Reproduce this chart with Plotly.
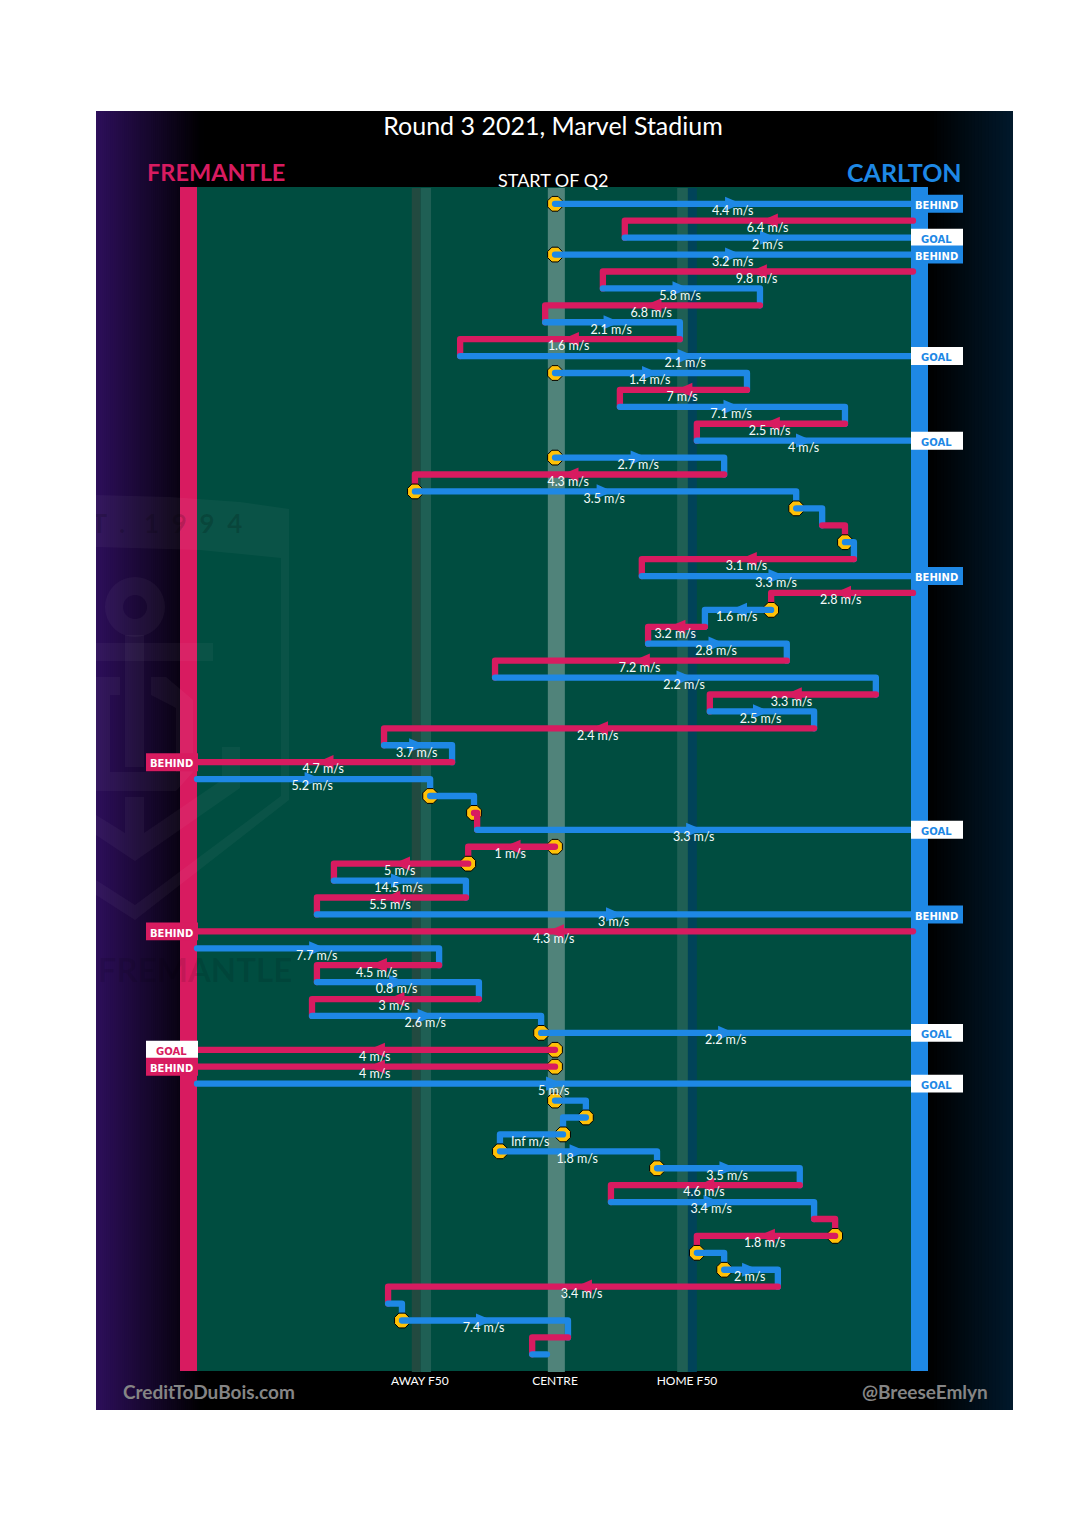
import math
import plotly.graph_objects as go

# Field position is metres from the away goal line (0) to the home goal line (160).
row_team = list("CFCCFCFCFC" "CFCFCCFCCF" "CFCFCFCFCF" "CFCFCCFCFF" "CFCFCFCFCC" "FFCCCCCCFC" "FFCCFCCFC")
row_start = [80, 160, 95.6, 80, 160, 90.7, 125.8, 77.8, 107.9, 58.8,
             80, 122.9, 94.5, 144.8, 111.7, 80, 117.8, 48.7, 133.9, 139.7,
             144.8, 146.8, 99.4, 160, 128.3, 113.5, 100.8, 131.8, 66.6, 151.7,
             114.6, 137.9, 41.8, 57, 0, 52.1, 61.9, 62.6, 80, 60.6,
             30.6, 60.1, 26.8, 160, 0, 54.1, 26.8, 63, 25.7, 76.9,
             80, 80, 0, 80, 86.9, 81.8, 67.7, 102.8, 134.7, 92.5,
             137.9, 142.6, 111.7, 117.8, 129.8, 42.7, 45.8, 82.9, 74.9]
row_end = [160, 95.6, 160, 160, 90.7, 125.8, 77.8, 107.9, 58.8, 160,
           122.9, 94.5, 144.8, 111.7, 160, 117.8, 48.7, 133.9, 139.7, 144.8,
           146.8, 99.4, 160, 128.3, 113.5, 100.8, 131.8, 66.6, 151.7, 114.6,
           137.9, 41.8, 57, 0, 52.1, 61.9, 62.6, 160, 60.6, 30.6,
           60.1, 26.8, 160, 0, 54.1, 26.8, 63, 25.7, 76.9, 160,
           0, 0, 160, 86.9, 81.8, 67.7, 102.8, 134.7, 92.5, 137.9,
           142.6, 111.7, 117.8, 129.8, 42.7, 45.8, 82.9, 74.9, 78.2]
row_speed = [4.4, 6.4, 2, 3.2, 9.8, 5.8, 6.8, 2.1, 1.6, 2.1,
             1.4, 7, 7.1, 2.5, 4, 2.7, 4.3, 3.5, None, None,
             None, 3.1, 3.3, 2.8, 1.6, 3.2, 2.8, 7.2, 2.2, 3.3,
             2.5, 2.4, 3.7, 4.7, 5.2, None, None, 3.3, 1, 5,
             14.5, 5.5, 3, 4.3, 7.7, 4.5, 0.8, 3, 2.6, 2.2,
             4, 4, 5, None, None, float("inf"), 1.8, 3.5, 4.6, 3.4,
             None, 1.8, None, 2, 3.4, None, 7.4, None, None]
outcome_rows = {0: "BEHIND", 2: "GOAL", 3: "BEHIND", 9: "GOAL", 14: "GOAL", 22: "BEHIND",
                33: "BEHIND", 37: "GOAL", 42: "BEHIND", 43: "BEHIND", 49: "GOAL",
                50: "GOAL", 51: "BEHIND", 52: "GOAL"}
stoppage_rows = [0, 3, 10, 15, 17, 18, 20, 24, 35, 36, 38, 39, 49, 50, 51, 53, 54, 55, 56, 57, 61, 62, 63, 66]

band_edges = [48.0, 50.0, 52.3, 78.4, 82.2, 107.3, 109.7, 111.7]
tick_vals = [49.8, 80, 109.5]
tick_text = ["AWAY F50", "CENTRE", "HOME F50"]

PINK, BLUE, GOLD, PITCH = "#D81B60", "#1E88E5", "#FFC107", "#004D40"
COL = {"F": PINK, "C": BLUE}
W, H = 1080, 1535
L, R, T, B = 96, 1013, 111, 1410
PX_M = 4.475
PX_ROW = 16.92
X0, Y0 = 197, 203.8


def mx(px):
    return (px - X0) / PX_M


def ry(py):
    return (py - Y0) / PX_ROW


def pp(px, py):
    return f"{mx(px):.4f},{ry(py):.4f}"


def poly(points):
    return "M" + " L".join(pp(*p) for p in points) + " Z"


shapes = []


def rect(x0, x1, y0, y1, color, layer="below"):
    shapes.append(dict(type="rect", xref="x", yref="y", x0=x0, x1=x1, y0=y0, y1=y1,
                       fillcolor=color, line_width=0, layer=layer))


# side gradients
steps = 52
for i in range(steps):
    t = i / steps
    c = (int(45 * (1 - t)), int(15 * (1 - t)), int(90 * (1 - t)))
    rect(mx(L + (202 - L) * t), mx(204), ry(T), ry(B), f"rgb{c}")
for i in range(24):
    t = (i + 1) / 24
    c = (int(2 * t), int(25 * t), int(43 * t))
    rect(mx(930 + (R - 930) * (i / 24)), mx(R), ry(T), ry(B), f"rgb{c}")

# pitch
top, bottom = ry(187), ry(1371)
rect(0, mx(911), top, bottom, PITCH)
band_colors = ["#224A40", "#1F5F54", None, "#50837A", None, "#1F5F54", "#004359"]
for a, b, col in zip(band_edges[:-1], band_edges[1:], band_colors):
    if col:
        rect(a, b, ry(188), ry(1372), col)
rect(mx(180), 0, top, bottom, PINK)
rect(mx(911), mx(928), top, bottom, BLUE)

# faint club crest
wm = "rgba(255,255,255,0.04)"
for pts in [
    [(96, 495), (170, 497), (240, 502), (289, 509), (289, 800), (135, 920), (96, 895),
     (96, 880), (135, 905), (281, 796), (281, 558), (200, 550), (96, 547)],
    [(96, 643), (213, 643), (213, 661), (96, 661)],
    [(125, 635), (144, 635), (144, 767), (125, 767)],
    [(96, 677), (120, 677), (120, 695), (110, 695), (110, 772), (176, 772), (176, 708),
     (151, 695), (151, 677), (166, 677), (193, 700), (193, 772), (176, 791), (96, 791)],
    [(222, 747), (240, 747), (240, 788), (135, 861), (96, 835), (96, 815), (125, 833),
     (125, 797), (144, 797), (144, 833), (222, 780)],
]:
    shapes.append(dict(type="path", xref="x", yref="y", path=poly(pts),
                       fillcolor=wm, line_width=0, layer="below"))
shapes.append(dict(type="path", xref="x", yref="y", fillcolor=wm, line_width=0, layer="below",
                   path="M" + " L".join(
                       pp(135 + 30 * math.cos(a / 18 * math.pi),
                          607 + 30 * math.sin(a / 18 * math.pi)) for a in range(37))
                        + " Z M" + " L".join(
                       pp(135 + 12 * math.cos(a / 18 * math.pi),
                          607 - 12 * math.sin(a / 18 * math.pi)) for a in range(37)) + " Z"))

fig = go.Figure()

NB = "\u00a0"
fig.add_trace(go.Scatter(
    x=[mx(140), mx(195)], y=[ry(526), ry(974)], mode="text", hoverinfo="skip", cliponaxis=True,
    text=[f"{NB}{NB}".join("EST.") + f"{NB}{NB}{NB}" + f"{NB}{NB}".join("1994"), "FREMANTLE"],
    textposition="middle center",
    textfont=dict(family="Lato", size=[26, 33], weight="bold",
                  color=["rgba(0,0,0,0.16)", "rgba(0,0,0,0.10)"])))

notes = []


def note(text, px, py, size, color, bold=False, family="Lato"):
    return dict(text=f"<b>{text}</b>" if bold else text, xref="paper", yref="paper",
                x=(px - L) / (R - L), y=(B - py) / (B - T), xanchor="center", yanchor="middle",
                showarrow=False, font=dict(family=family, size=size, color=color))


# outcome tags sit over the line ends
for i, what in outcome_rows.items():
    right = row_end[i] == 160
    face = "#FFFFFF" if what == "GOAL" else COL[row_team[i]]
    ink = COL[row_team[i]] if what == "GOAL" else "#FFFFFF"
    a, b = (mx(911), mx(963)) if right else (mx(146), mx(198))
    rect(a, b, i - 0.53, i + 0.53, face, layer="above")
    notes.append(dict(text=f"<b>{what}</b>", x=mx(936 if right else 171.5), y=i + 0.1,
                      xref="x", yref="y", showarrow=False, xanchor="center", yanchor="middle",
                      font=dict(family="DejaVu Sans", size=10, color=ink)))

rows = list(range(len(row_start)))
for i in rows:
    team = row_team[i]
    if i in stoppage_rows:
        fig.add_trace(go.Scatter(x=[row_start[i]], y=[i], mode="markers", hoverinfo="skip",
                                 marker=dict(symbol="octagon", size=16, color=GOLD,
                                             line=dict(color="black", width=1))))
    xs, ys = [row_start[i], row_end[i]], [i, i]
    if i not in outcome_rows and i + 1 < len(rows):
        xs.append(row_end[i])
        ys.append(i + 1)
    fig.add_trace(go.Scatter(x=xs, y=ys, mode="lines", hoverinfo="skip",
                             line=dict(color=COL[team], width=6.3)))
    sp = row_speed[i]
    if sp is not None and sp != float("inf"):
        mid = (row_start[i] + row_end[i]) / 2
        d = 1 if row_end[i] > row_start[i] else -1
        fig.add_trace(go.Scatter(x=[mid - 2 * d, mid - 2 * d, mid + 1.7 * d, mid - 2 * d],
                                 y=[i - 0.42, i + 0.42, i, i - 0.42],
                                 mode="lines", fill="toself", fillcolor=COL[team],
                                 line=dict(width=0, color=COL[team]), hoverinfo="skip"))

lab_i = [i for i in rows if row_speed[i] is not None]
fig.add_trace(go.Scatter(
    x=[(row_start[i] + row_end[i]) / 2 - 0.3 for i in lab_i],
    y=[i + 8.2 / PX_ROW for i in lab_i],
    mode="text", hoverinfo="skip", textposition="middle center",
    text=["Inf m/s" if row_speed[i] == float("inf") else f"{row_speed[i]:g} m/s" for i in lab_i],
    textfont=dict(family="Lato", size=12.5, color="#F4FBFA")))

annotations = notes + [
    note("FREMANTLE", 216, 172, 23.5, PINK, True),
    note("CARLTON", 904.5, 172, 25, BLUE, True),
    note("START OF Q2", 553.5, 180, 18, "white"),
    note("CreditToDuBois.com", 208.5, 1391, 19, "#858585", True),
    note("@BreeseEmlyn", 924.5, 1391, 19, "#858585", True),
]

fig.update_layout(
    width=W, height=H, autosize=False,
    margin=dict(l=L, r=W - R, t=T, b=H - B, pad=0),
    paper_bgcolor="white", plot_bgcolor="black", showlegend=False,
    title=dict(text="Round 3 2021, Marvel Stadium", xref="container", yref="container",
               x=553 / W, y=1 - 126 / H, xanchor="center", yanchor="middle",
               font=dict(family="Lato", size=25, color="white")),
    xaxis=dict(range=[mx(L), mx(R)], showgrid=False, zeroline=False, showline=False,
               anchor="free", position=(B - 1371) / (B - T), side="bottom",
               tickmode="array", tickvals=tick_vals, ticktext=tick_text, ticks="",
               tickfont=dict(family="Lato", size=12, color="white"), ticklabelstandoff=1),
    yaxis=dict(range=[ry(B), ry(T)], showgrid=False, zeroline=False, showline=False,
               showticklabels=False, ticks=""),
    shapes=shapes, annotations=annotations,
)
fig.write_html("out.html", config=dict(displayModeBar=False), post_script="""
document.body.style.margin='0';
document.querySelectorAll('.js-line').forEach(p=>{p.style.strokeLinecap='round';p.style.strokeLinejoin='round';});
""")
